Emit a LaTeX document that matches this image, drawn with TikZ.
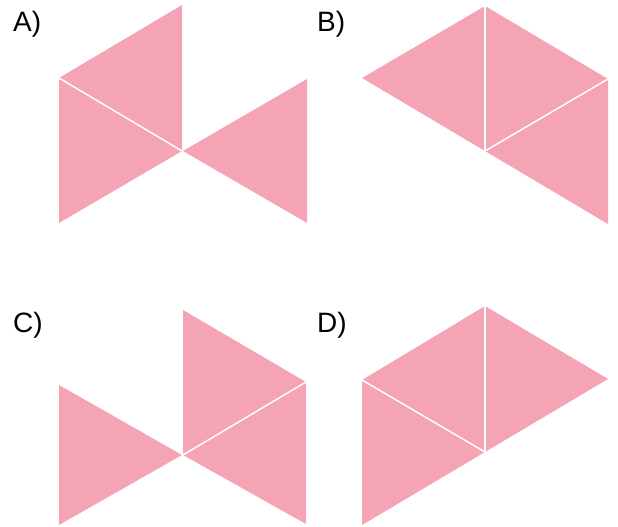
\documentclass[tikz,border=0pt]{standalone}
\usepackage{fontspec}
\setmainfont{Liberation Sans}
\definecolor{pinkc}{RGB}{244,164,181}
\begin{document}
\begin{tikzpicture}[x=1pt,y=-1pt,
  tri/.style={fill=pinkc},
  sep/.style={draw=white,line width=1.5pt},
  lab/.style={anchor=base west,inner sep=0pt,font=\fontsize{28}{30}\selectfont}]
\useasboundingbox (0,0) rectangle (618,527);
% A
\fill[tri] (182,5) -- (59,78) -- (182,151) -- cycle;
\fill[tri] (59,78) -- (59,223) -- (182,151) -- cycle;
\fill[tri] (183,151) -- (307,79) -- (307,223) -- cycle;
\draw[sep] (59,78) -- (182,151);
% B
\fill[tri] (362,78) -- (485,6) -- (485,151) -- cycle;
\fill[tri] (485,6) -- (608,79) -- (485,151) -- cycle;
\fill[tri] (485,151) -- (608,79) -- (608,224) -- cycle;
\draw[sep] (485,6) -- (485,151);
\draw[sep] (485,151) -- (608,79);
% C
\fill[tri] (59,385) -- (59,525) -- (182,455) -- cycle;
\fill[tri] (183,310) -- (306,382) -- (183,455) -- cycle;
\fill[tri] (183,455) -- (306,382) -- (306,524) -- cycle;
\draw[sep] (183,455) -- (306,382);
% D
\fill[tri] (362,380) -- (485,306) -- (485,452) -- cycle;
\fill[tri] (485,306) -- (608,379) -- (485,452) -- cycle;
\fill[tri] (362,380) -- (362,525) -- (485,452) -- cycle;
\draw[sep] (485,306) -- (485,452);
\draw[sep] (362,380) -- (485,452);
% labels
\node[lab] (la) at (13,32) {A)};
\node[lab] (lb) at (317,32) {B)};
\node[lab] (lc) at (13,332) {C)};
\node[lab] (ld) at (317,332) {D)};
\end{tikzpicture}
\end{document}
